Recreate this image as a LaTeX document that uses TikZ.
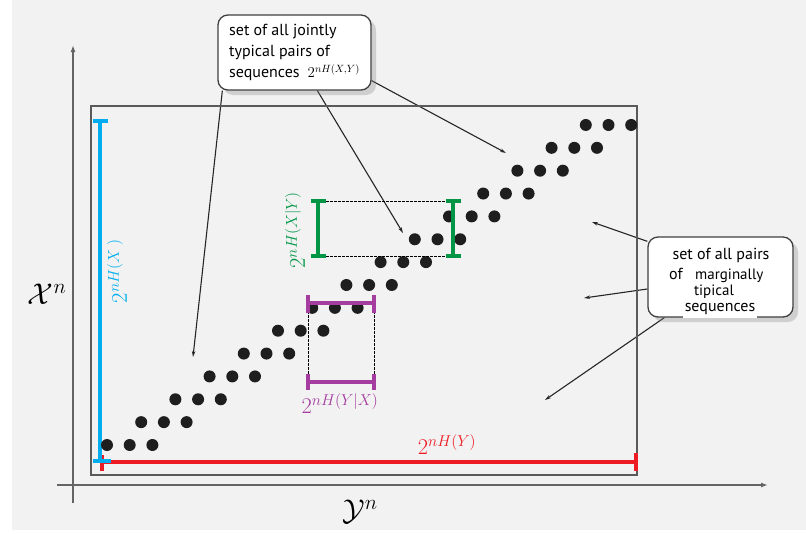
\RequirePackage{fix-cm}
\documentclass[tikz,border=0pt]{standalone}
\usepackage{fontspec}
\newfontfamily\calloutfont{PT Sans}
\usetikzlibrary{arrows.meta,shadows}
\definecolor{bgc}{RGB}{242,242,242}
\definecolor{cblue}{RGB}{0,174,239}
\definecolor{cred}{RGB}{237,28,36}
\definecolor{cgreen}{RGB}{0,150,70}
\definecolor{cpurple}{RGB}{165,60,160}
\definecolor{framec}{RGB}{90,90,90}
\definecolor{axisc}{RGB}{100,100,100}
\definecolor{dotc}{RGB}{30,30,30}
\pgfdeclarelayer{bg}
\pgfdeclarelayer{lines}
\pgfsetlayers{bg,lines,main}
\tikzset{
  axisline/.style={draw=axisc, line width=1.8pt, -{Latex[length=7pt,width=5pt]}},
  bar/.style={line width=3.3pt},
  guide/.style={draw=black, line width=0.7pt, dash pattern=on 2.5pt off 1.5pt},
  callout/.style={draw=black!75, line width=1.3pt, rounded corners=10pt, fill=white,
     drop shadow={shadow xshift=5pt, shadow yshift=-5pt, opacity=0.3}},
  ctext/.style={font=\calloutfont\fontsize{16}{21}\selectfont, inner sep=0pt},
  csmall/.style={font=\calloutfont\fontsize{15}{16}\selectfont, inner sep=0pt},
  pointer/.style={draw=black!85, line width=1.1pt, -{Stealth[length=6pt,width=3.5pt]}},
  mlabel/.style={font=\fontsize{22.5}{22.5}\selectfont, inner sep=0pt},
  biglabel/.style={font=\fontsize{30}{30}\selectfont, inner sep=0pt},
}
\begin{document}
\begin{tikzpicture}[x=1pt,y=-1pt]
\useasboundingbox (0,0) rectangle (806,533);
\begin{pgfonlayer}{bg}
\fill[white] (0,0) rectangle (806,533);
\fill[bgc] (12,0) rectangle (806,530);
\end{pgfonlayer}

% axes
\coordinate (ybot) at (73,503);
\coordinate (ytop) at (73,45);
\coordinate (xl) at (57,485);
\coordinate (xr) at (768,485);
\draw[axisline] (ybot) -- (ytop);
\draw[axisline] (xl) -- (xr);

% frame
\draw[framec, line width=1.2pt] (91,106) rectangle (637,475);

% red and blue bars
\draw[cred, bar] (102,462) -- (636,462);
\draw[cred, bar] (102,455) -- (102,471);
\draw[cred, bar] (636,453) -- (636,471);
\draw[cblue, bar] (100,121) -- (100,461);
\draw[cblue, bar] (93,121) -- (108,121);
\draw[cblue, bar] (93,461) -- (111,461);

% dots
\foreach \k in {0,...,14} {
  \foreach \j in {0,1,2} {
    \fill[dotc] ({107+34.2*\k+22.7*\j},{445-22.86*\k}) circle (6);
  }
}

% green
\draw[guide] (326,201) -- (446,201);
\draw[guide] (326,256) -- (446,256);
\draw[cgreen, bar] (318,201) -- (318,256);
\draw[cgreen, bar] (311,201) -- (326,201);
\draw[cgreen, bar] (311,256) -- (326,256);
\draw[cgreen, bar] (453,201) -- (453,256);
\draw[cgreen, bar] (446,201) -- (461,201);
\draw[cgreen, bar] (446,256) -- (461,256);

% purple
\draw[guide] (308,303) -- (308,382);
\draw[guide] (374,303) -- (374,382);
\draw[cpurple, bar] (308,303) -- (374,303);
\draw[cpurple, bar] (308,295) -- (308,313);
\draw[cpurple, bar] (374,295) -- (374,313);
\draw[cpurple, bar] (308,382) -- (374,382);
\draw[cpurple, bar] (308,374) -- (308,390);
\draw[cpurple, bar] (374,374) -- (374,390);

% math labels
\node[mlabel, text=cred] (ly) at (447,445) {$2^{nH(Y)}$};
\node[mlabel, text=cblue, rotate=90] (lx) at (117,271) {$2^{nH(X\;)}$};
\node[mlabel, text=cgreen, rotate=90] (lxy) at (295,230) {$2^{nH(X|Y)}$};
\node[mlabel, text=cpurple] (lyx) at (340,404) {$2^{nH(Y|X)}$};
\node[biglabel] (xn) at (47,294) {$\mathcal{X}^n$};
\node[biglabel] (yn) at (360,512) {$\mathcal{Y}^n$};

% callout 1
\node[callout, ctext, minimum width=153pt, minimum height=75pt, align=left] (c1) at (294.5,52.5)
  {set of all jointly\\typical pairs of\\sequences\enspace{\fontsize{15}{15}\selectfont$2^{nH(X,Y)}$}};

% callout 2
\node[callout, minimum width=145pt, minimum height=80pt] (c2) at (720.5,277) {};
\node[ctext, anchor=base] (c2a) at (721,259) {set of all pairs};
\node[ctext, anchor=base west] (c2b) at (669,279) {of};
\node[csmall, anchor=base west] (c2c) at (695,279) {marginally};
\node[csmall, anchor=base] (c2d) at (714,295) {tipical};
\node[ctext, anchor=base, fill=white, inner xsep=1.5pt, inner ysep=0.5pt, text height=10pt, text depth=6pt] (c2e) at (720,311) {sequences};

% pointers
\coordinate (t1) at (193,357);
\coordinate (t2) at (403,233);
\coordinate (t3) at (506,153);
\coordinate (t4) at (592,222);
\coordinate (t5) at (584,298);
\coordinate (t6) at (545,400);
\begin{pgfonlayer}{lines}
\draw[pointer] ([xshift=5pt]c1.south west) -- (t1);
\draw[pointer] ([xshift=100pt]c1.south west) -- (t2);
\draw[pointer] ([yshift=10pt]c1.south east) -- (t3);
\draw[pointer] ([yshift=-5pt]c2.north west) -- (t4);
\draw[pointer] ([yshift=-12pt]c2.west) -- (t5);
\draw[pointer] ([xshift=17pt]c2.south west) -- (t6);
\end{pgfonlayer}
\end{tikzpicture}
\end{document}
